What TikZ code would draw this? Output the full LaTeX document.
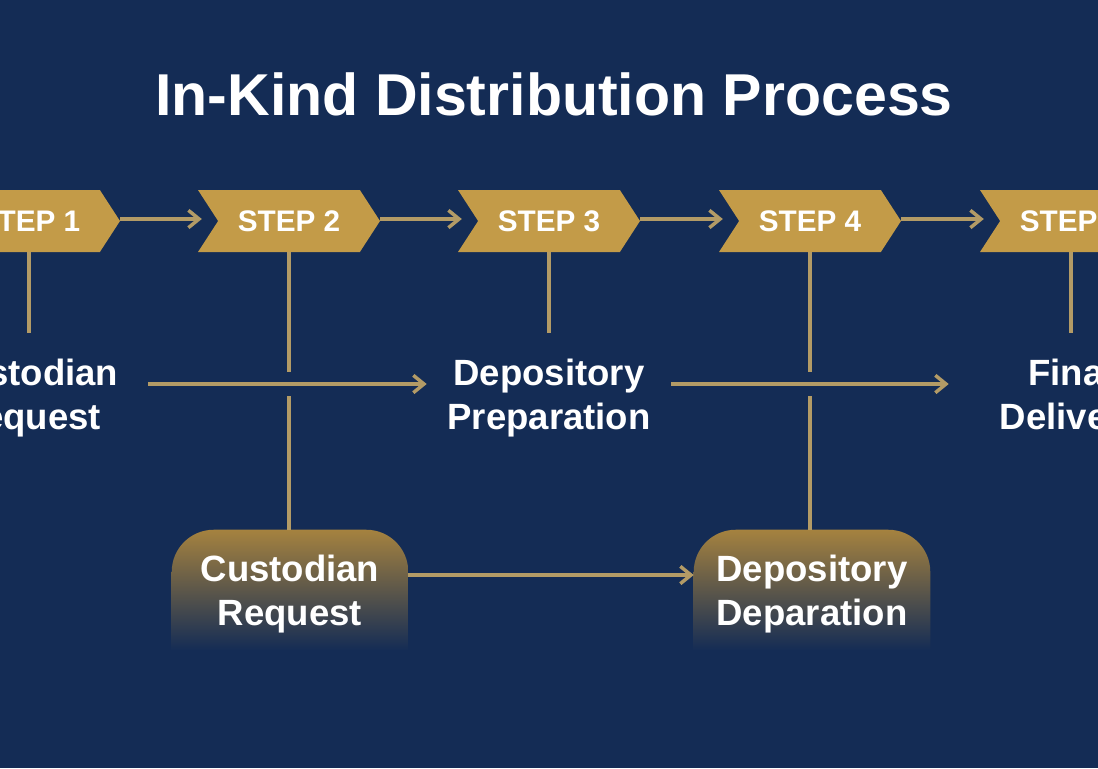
\documentclass[tikz,border=0pt]{standalone}
\usepackage{fontspec}
\setmainfont{Liberation Sans}
\usetikzlibrary{arrows.meta,shapes.symbols,backgrounds}
\definecolor{navy}{HTML}{142C55}
\definecolor{gold}{HTML}{C39B48}
\definecolor{line}{HTML}{B39B66}
\definecolor{boxtop}{HTML}{A5823F}
\definecolor{boxmid}{HTML}{645F4E}
\tikzset{
  stepbox/.style={signal,signal from=west,signal to=east,signal pointer angle=114,
    fill=gold,text=white,font=\bfseries\fontsize{22.3}{26}\selectfont,
    minimum width=136.5pt,minimum height=46.5pt,inner sep=0pt},
  label/.style={text=white,align=center,font=\bfseries\fontsize{27.4}{33}\selectfont,
    minimum width=183pt,minimum height=70pt,inner sep=0pt},
  roundbox/.style={label,minimum width=177pt,minimum height=96pt},
  link/.style={line,line width=2.6pt},
  flow/.style={link,-{Straight Barb[length=8pt,width=13pt,line width=2.6pt]}},
}

\begin{document}
\begin{tikzpicture}[x=0.75pt,y=-0.75pt]
  \useasboundingbox (0,0) rectangle (1098,768);

  \node [text=white,font=\bfseries\fontsize{44.3}{52}\selectfont] (title) at (554,94) {In-Kind Distribution Process};

  % steps along the top
  \foreach \i/\x in {1/29,2/289,3/549,4/810,5/1071}
  {
    \node [stepbox] at (\x,221) (step\i) {STEP \i};
  }
  \foreach \i/\j in {1/2,2/3,3/4,4/5}
  {
    \draw [flow,shorten >=12pt] ([yshift=1.5pt]step\i.east) -- ([yshift=1.5pt]step\j.west);
  }

  % middle row
  \node [label,minimum width=178.5pt] at (29,398) (custodian) {Custodian\\Request};
  \node [label] at (549,398) (depository) {Depository\\Preparation};
  \node [label] at (1071,398) (final) {Final\\Delivery};

  % bottom row
  \node [roundbox] at (290,594) (custbox) {Custodian\\Request};
  \node [roundbox] at (812,594) (depbox) {Depository\\Deparation};

  \begin{scope}[on background layer]
    \fill [navy] (0,0) rectangle (1098,768);
    \foreach \b in {custbox,depbox}
    {
      \shade [top color=boxtop,middle color=boxmid,bottom color=navy]
        ([yshift=6pt]\b.south west) [rounded corners=31.5pt] -- (\b.north west) -- (\b.north east)
        [sharp corners] -- ([yshift=6pt]\b.south east) -- cycle;
    }
  \end{scope}

  % drops from the steps
  \draw [link,shorten >=13.5pt] (step1.south) -- (custodian.north);
  \draw [link,shorten >=13.5pt] (step3.south) -- (depository.north);
  \draw [link,shorten >=13.5pt] (step5.south) -- (final.north);

  \foreach \i/\b in {2/custbox,4/depbox}
  {
    \coordinate (gap\i a) at (step\i.south |- 0,372);
    \coordinate (gap\i b) at (step\i.south |- 0,396);
    \draw [link] (step\i.south) -- (gap\i a);
    \draw [link] (gap\i b) -- (step\i.south |- \b.north);
  }

  % horizontal arrows
  \draw [flow] ([yshift=10.5pt]custodian.east) -- ([yshift=10.5pt]depository.west);
  \draw [flow] ([yshift=10.5pt]depository.east) -- ([yshift=10.5pt]final.west);
  \draw [flow] ([yshift=14.25pt]custbox.east) -- ([yshift=14.25pt]depbox.west);
\end{tikzpicture}
\end{document}
